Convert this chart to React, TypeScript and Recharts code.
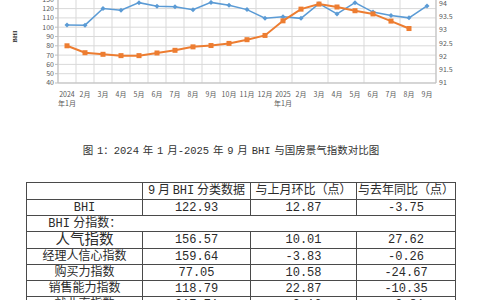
import React from "react";
import { LineChart, Line, XAxis, YAxis, CartesianGrid } from "recharts";

// months Jan 2024 .. Sep 2025
const months = [
  "2024\n年1月", "2月", "3月", "4月", "5月", "6月", "7月", "8月", "9月", "10月", "11月", "12月",
  "2025\n年1月", "2月", "3月", "4月", "5月", "6月", "7月", "8月", "9月",
];
const bhiValues = [
  102.4, 102.2, 120.1, 118.2, 126.4, 122.5, 122.0, 118.8, 126.68, 123.6, 118.9, 109.6,
  111.3, 109.5, 125.3, 114.3, 126.4, 116.3, 112.7, 110.06, 122.93,
];
const climateValues: (number | null)[] = [
  92.4, 92.14, 92.08, 92.03, 92.03, 92.13, 92.23, 92.36, 92.41, 92.49, 92.63, 92.79,
  93.34, 93.78, 93.97, 93.86, 93.72, 93.6, 93.33, 93.05, null,
];
const leftTicks = [40, 50, 60, 70, 80, 90, 100, 110, 120, 130, 140];
const rightTicks = [91, 91.5, 92, 92.5, 93, 93.5, 94, 94.5];

const caption = "图 1：2024 年 1 月-2025 年 9 月 BHI 与国房景气指数对比图";
const tableHeader = ["", "9 月 BHI 分类数据", "与上月环比（点）", "与去年同比（点）"];
const bhiRow = ["BHI", 122.93, 12.87, -3.75];
const subIndexTitle = "BHI 分指数：";
const subNames = ["人气指数", "经理人信心指数", "购买力指数", "销售能力指数", "就业率指数"];
const subSeptember = [156.57, 159.64, 77.05, 118.79, 217.71];
const subMonthChange = [10.01, -3.83, 10.58, 22.87, -9.16];
const subYearChange = [27.62, -0.26, -24.67, -10.35, -3.81];

const chartData = months.map((m, i) => ({
  x: i + 0.5,
  month: m,
  bhi: bhiValues[i],
  grf: climateValues[i],
}));
const labelTicks = months.map((_, i) => i + 0.5);
const gridTicks = Array.from({ length: months.length + 1 }, (_, i) => i);

const tickFont = { fontSize: 7, fill: "#595959", fontFamily: "'Noto Sans CJK SC', 'Noto Sans', sans-serif" };

function MonthTick(props: any) {
  const { x, y, payload } = props;
  const idx = Math.round(payload.value - 0.5);
  const lines = (months[idx] || "").split("\n");
  return (
    <text x={x} y={y} textAnchor="middle" {...tickFont}>
      {lines.map((l, i) => (
        <tspan key={i} x={x} dy={i === 0 ? 13.5 : 9}>
          {l}
        </tspan>
      ))}
    </text>
  );
}

function Diamond(props: any) {
  const { cx, cy, key } = props;
  if (cy == null || cx == null) return <g key={key} />;
  return (
    <path
      key={key}
      d={`M${cx},${cy - 2.5}L${cx + 2.5},${cy}L${cx},${cy + 2.5}L${cx - 2.5},${cy}Z`}
      fill="#5B9BD5"
    />
  );
}

function Square(props: any) {
  const { cx, cy, key } = props;
  if (cy == null || cx == null) return <g key={key} />;
  return <rect key={key} x={cx - 2.5} y={cy - 2.5} width={5} height={5} fill="#ED7D31" />;
}

const fmt = (v: number) => v.toFixed(2);

const cellFont = "'Liberation Mono', 'Noto Sans CJK SC', monospace";
const border = "1px solid #4a4a4a";
const colWidths = [116, 108, 106, 99];
// the first sub-index name is typeset larger in the source document
const bigName = "人气指数";

export default function App() {
  const td = (h: number, extra: React.CSSProperties = {}): React.CSSProperties => ({
    border,
    height: h,
    padding: 0,
    textAlign: "center",
    verticalAlign: "middle",
    lineHeight: "12px",
    whiteSpace: "nowrap",
    overflow: "hidden",
    ...extra,
  });

  return (
    <div
      style={{
        position: "absolute",
        left: 0,
        top: 0,
        width: 480,
        height: 300,
        overflow: "hidden",
        background: "#fff",
      }}
    >
      <div style={{ position: "absolute", left: 0, top: -21 }}>
        <LineChart width={480} height={134} data={chartData} margin={{ top: 11, right: 0, bottom: 0, left: 0 }}>
          <CartesianGrid xAxisId="grid" yAxisId="left" stroke="#d9d9d9" strokeWidth={1} />
          <XAxis
            xAxisId="main"
            dataKey="x"
            type="number"
            domain={[0, 21]}
            ticks={labelTicks}
            interval={0}
            height={30}
            tickSize={0}
            tickMargin={0}
            tickLine={false}
            axisLine={{ stroke: "#bfbfbf" }}
            tick={<MonthTick />}
          />
          <XAxis xAxisId="grid" dataKey="x" type="number" domain={[0, 21]} ticks={gridTicks} height={0} hide />
          <YAxis
            yAxisId="left"
            domain={[40, 140]}
            ticks={leftTicks}
            interval={0}
            width={58}
            tickSize={3}
            tickMargin={1}
            tick={tickFont}
            tickLine={{ stroke: "#bfbfbf" }}
            axisLine={{ stroke: "#bfbfbf" }}
            label={{
              value: "BHI",
              angle: -90,
              position: "insideLeft",
              offset: 15,
              style: { fontSize: 6.5, fontWeight: 700, fill: "#222", textAnchor: "middle" },
            }}
          />
          <YAxis
            yAxisId="right"
            orientation="right"
            domain={[91, 94.5]}
            ticks={rightTicks}
            interval={0}
            width={44}
            tickSize={0}
            tickMargin={3}
            tick={tickFont}
            tickLine={false}
            axisLine={{ stroke: "#bfbfbf" }}
          />
          <Line
            xAxisId="main"
            yAxisId="left"
            dataKey="bhi"
            stroke="#5B9BD5"
            strokeWidth={1.5}
            dot={Diamond}
            isAnimationActive={false}
          />
          <Line
            xAxisId="main"
            yAxisId="right"
            dataKey="grf"
            stroke="#ED7D31"
            strokeWidth={2}
            dot={Square}
            isAnimationActive={false}
          />
        </LineChart>
      </div>

      <div
        style={{
          position: "absolute",
          left: 0,
          top: 142,
          width: 462,
          textAlign: "center",
          fontFamily: cellFont,
          fontSize: 10.5,
          wordSpacing: -2.5,
          color: "#333",
          whiteSpace: "pre",
        }}
      >
        {caption}
      </div>

      <table
        style={{
          position: "absolute",
          left: 26,
          top: 182,
          width: 429,
          borderCollapse: "collapse",
          tableLayout: "fixed",
          fontFamily: cellFont,
          fontSize: 12,
          color: "#2a2a2a",
        }}
      >
        <colgroup>
          {colWidths.map((w, i) => (
            <col key={i} style={{ width: w }} />
          ))}
        </colgroup>
        <tbody>
          <tr>
            {tableHeader.map((h, i) => (
              <td key={i} style={td(16, { wordSpacing: -4.5 })}>
                {h}
              </td>
            ))}
          </tr>
          <tr>
            {bhiRow.map((v, i) => (
              <td key={i} style={td(15)}>
                {typeof v === "number" ? fmt(v) : v}
              </td>
            ))}
          </tr>
          <tr>
            <td style={td(15, { borderRight: "none", wordSpacing: -4 })}>{subIndexTitle}</td>
            <td colSpan={3} style={td(15, { borderLeft: "none" })} />
          </tr>
          {subNames.map((name, i) => (
            <tr key={name}>
              <td style={td(name === bigName ? 16 : 15, name === bigName ? { fontSize: 14.5 } : {})}>{name}</td>
              <td style={td(15)}>{fmt(subSeptember[i])}</td>
              <td style={td(15)}>{fmt(subMonthChange[i])}</td>
              <td style={td(15)}>{fmt(subYearChange[i])}</td>
            </tr>
          ))}
        </tbody>
      </table>
    </div>
  );
}
